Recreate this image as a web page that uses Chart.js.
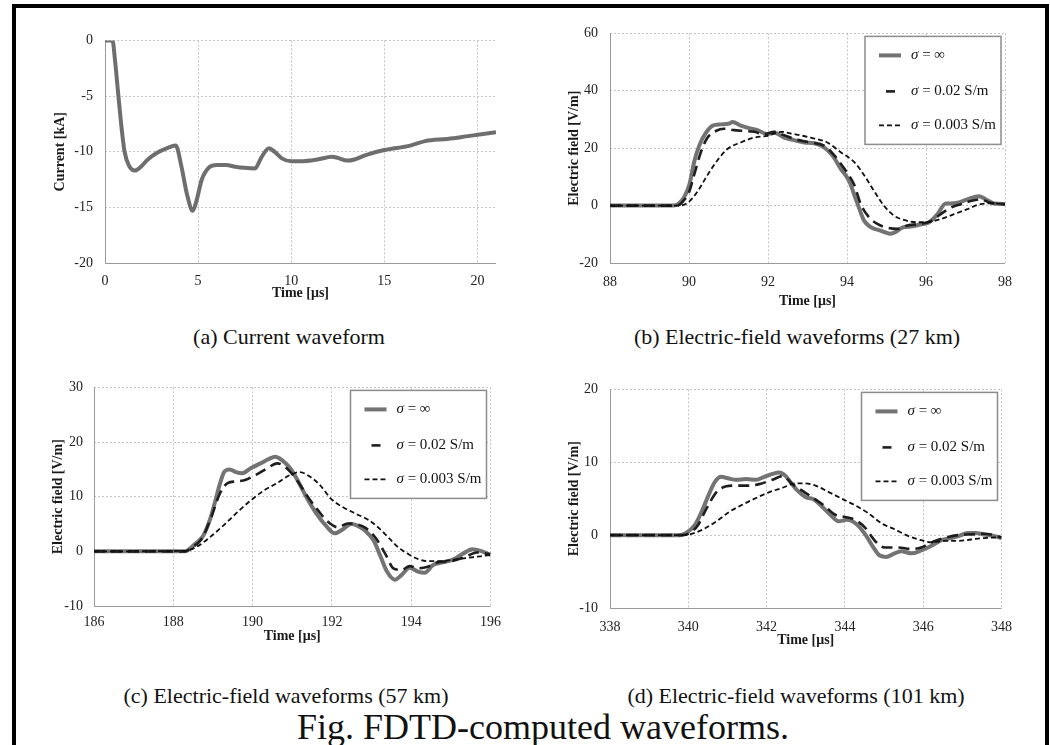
<!DOCTYPE html>
<html><head><meta charset="utf-8">
<script src="https://cdn.jsdelivr.net/npm/chart.js@4.4.1/dist/chart.umd.min.js"></script>
<style>
html,body{margin:0;padding:0;background:#fff;width:1050px;height:745px;overflow:hidden;position:relative;}
#frame{position:absolute;left:12px;top:4px;width:1029px;height:800px;border:4px solid #000;border-bottom:none;}
canvas{position:absolute;}
.cap{position:absolute;font-family:'Liberation Serif','Times New Roman',serif;font-size:22px;line-height:22px;color:#111;white-space:nowrap;transform:translateX(-50%);}
#fig{font-size:36px;line-height:36px;}
</style></head><body>
<div id="frame"></div>
<canvas id="ca" width="458" height="280" style="left:53px;top:20px;width:458px;height:280px"></canvas>
<canvas id="cb" width="456" height="295" style="left:567px;top:13px;width:456px;height:295px"></canvas>
<canvas id="cc" width="458" height="275" style="left:51px;top:368px;width:458px;height:275px"></canvas>
<canvas id="cd" width="456" height="278" style="left:567px;top:369px;width:456px;height:278px"></canvas>
<div class="cap" style="left:289px;top:326px">(a) Current waveform</div>
<div class="cap" style="left:797px;top:326px">(b) Electric-field waveforms (27 km)</div>
<div class="cap" style="left:286px;top:685px">(c) Electric-field waveforms (57 km)</div>
<div class="cap" style="left:796px;top:685px">(d) Electric-field waveforms (101 km)</div>
<div class="cap" id="fig" style="left:543px;top:709px">Fig. FDTD-computed waveforms.</div>
<script>
// ---------- DATA ----------
const seriesLabels = ['σ = ∞', 'σ = 0.02 S/m', 'σ = 0.003 S/m'];

// (a) Current waveform
const aTime = [0,0.4,0.55,0.72,0.9,1.05,1.3,1.61,1.9,2.3,2.8,3.3,3.8,4.1,4.4,4.71,4.9,5.2,5.6,6.0,6.5,7.0,7.5,8.06,8.4,8.82,9.1,9.5,10.0,10.5,11.4,12.2,12.5,13.0,13.4,14.0,15.0,16.4,17.2,18.4,19.5,21.0];
const aCurrent = [0,0,-2.0,-5.0,-8.0,-10.0,-11.3,-11.7,-11.4,-10.7,-10.1,-9.7,-9.45,-11.3,-13.8,-15.3,-14.5,-12.5,-11.4,-11.2,-11.2,-11.35,-11.45,-11.5,-10.5,-9.7,-10.0,-10.6,-10.85,-10.85,-10.7,-10.45,-10.55,-10.8,-10.7,-10.3,-9.85,-9.45,-9.05,-8.85,-8.6,-8.25];

// (b) 27 km
const bInfT = [88,89.6,89.75,89.88,90.01,90.13,90.26,90.43,90.6,90.81,91.02,91.1,91.31,91.57,91.73,91.99,92.16,92.41,92.66,92.92,93.17,93.42,93.63,93.84,94.06,94.18,94.27,94.43,94.6,94.77,94.94,95.1,95.23,95.4,95.61,95.86,96.08,96.29,96.5,96.63,96.8,97.05,97.34,97.51,97.72,98];
const bInfE = [0,0,0.8,3,7.3,15.2,20.9,25.4,27.9,28.3,28.6,29.1,27.9,26.8,26.3,24.9,25.4,23.7,22.8,22.0,21.7,20.3,17.5,12.9,8.4,3.9,0.5,-5.2,-7.5,-8.4,-9.2,-9.8,-9.2,-7.7,-7.3,-6.6,-5.8,-3.0,0.7,0.7,1.0,2.2,3.3,2.2,0.7,0.5];
const b002T = [88,89.7,89.85,90.01,90.13,90.3,90.47,90.68,90.89,91.14,91.4,91.65,91.9,92.16,92.41,92.75,93.08,93.42,93.68,93.93,94.18,94.35,94.56,94.77,95.02,95.27,95.53,95.86,96.12,96.37,96.63,96.88,97.13,97.38,97.63,98];
const b002E = [0,0,1.5,5.0,10.7,18.6,23.7,26.0,26.8,26.3,26.0,25.7,24.9,25.7,24.5,22.9,22.0,20.9,17.5,12.9,7.3,0.5,-4.1,-6.4,-7.7,-8.1,-6.9,-6.4,-5.4,-3.0,-0.7,0.5,1.6,2.2,1.0,0.5];
const b0003T = [88,89.75,89.97,90.22,90.47,90.72,90.98,91.31,91.65,91.99,92.33,92.66,93.08,93.5,93.84,94.18,94.43,94.69,94.94,95.19,95.44,95.78,96.03,96.37,96.71,97.05,97.38,97.72,98];
const b0003E = [0,0,1.0,5.0,10.7,15.8,19.8,22.0,23.7,24.3,25.7,24.9,23.7,22.0,18.6,15.2,10.7,5.0,-0.1,-3.5,-5.0,-5.8,-5.8,-4.7,-3.0,-1.2,0.5,0.8,0.5];

// (c) 57 km
const cInfT = [186,188.3,188.54,188.75,188.92,189.04,189.17,189.29,189.42,189.58,189.74,189.95,190.2,190.41,190.57,190.74,190.95,191.15,191.36,191.61,191.86,192.07,192.27,192.48,192.64,192.85,193.06,193.22,193.39,193.59,193.76,193.96,194.17,194.34,194.55,194.8,195.05,195.29,195.54,195.75,196];
const cInfE = [0,0,1.3,2.8,5.7,8.7,12.2,14.6,15.0,14.5,14.3,15.2,16.1,16.9,17.3,16.7,15.2,12.8,9.9,6.9,4.6,3.3,4.0,5.0,4.7,3.7,1.9,-0.8,-3.7,-5.2,-4.3,-3.0,-3.7,-3.9,-2.5,-2.0,-1.5,-0.5,0.4,0.1,-0.65];
const c002T = [186,188.3,188.46,188.71,188.96,189.17,189.37,189.58,189.83,190.08,190.37,190.62,190.86,191.11,191.4,191.65,191.9,192.15,192.4,192.6,192.85,193.1,193.35,193.55,193.76,193.96,194.17,194.42,194.67,195.0,195.33,195.66,196];
const c002E = [0,0,0.7,2.2,6.3,10.5,12.5,12.8,13.1,14.0,15.2,16.1,15.2,13.1,9.9,7.5,5.4,4.4,5.1,5.0,4.3,2.5,-0.5,-3.1,-3.4,-2.7,-3.1,-2.8,-2.0,-1.8,-1.1,-0.2,-0.5];
const c0003T = [186,188.29,188.63,188.96,189.29,189.62,189.95,190.28,190.62,190.95,191.19,191.44,191.69,191.98,192.27,192.6,192.93,193.18,193.43,193.68,193.93,194.17,194.42,194.75,195.08,195.41,195.75,196];
const c0003E = [0,0.1,1.0,2.8,4.9,7.2,9.3,11.1,12.5,14.0,14.5,13.7,12.2,9.6,8.1,6.9,5.7,4.3,2.5,0.7,-0.5,-1.4,-1.8,-1.8,-1.5,-1.2,-0.9,-0.65];

// (d) 101 km
const dInfT = [338,339.8,340.0,340.17,340.34,340.51,340.68,340.84,341.01,341.22,341.48,341.73,341.94,342.15,342.32,342.49,342.62,342.79,343.0,343.21,343.42,343.63,343.84,344.05,344.3,344.52,344.73,344.89,345.06,345.23,345.44,345.7,345.95,346.2,346.46,346.71,346.92,347.13,347.34,347.55,347.8,348];
const dInfE = [0,0,0.5,1.4,3.2,5.4,7.3,8.0,7.8,7.6,7.7,7.6,8.0,8.4,8.6,8.1,7.2,6.1,5.2,4.9,3.9,2.8,1.9,2.1,1.5,0.1,-1.7,-2.8,-3.0,-2.6,-2.2,-2.5,-2.1,-1.5,-0.7,-0.4,-0.1,0.3,0.3,0.1,-0.1,-0.4];
const d002T = [338,339.85,340.04,340.25,340.46,340.72,340.97,341.22,341.56,341.81,342.15,342.41,342.66,342.91,343.16,343.46,343.75,344.0,344.26,344.52,344.77,345.02,345.36,345.7,345.95,346.25,346.54,346.88,347.22,347.55,348];
const d002E = [0,0,0.3,1.4,3.6,5.9,6.7,6.8,6.8,7.0,7.6,8.1,7.0,6.1,5.2,4.1,2.8,2.5,2.1,1.0,-0.8,-1.7,-1.7,-1.9,-1.7,-0.9,-0.4,0,0.1,0.2,-0.3];
const d0003T = [338,339.9,340.04,340.38,340.72,341.05,341.39,341.73,342.07,342.41,342.74,343.0,343.25,343.59,343.92,344.26,344.6,344.94,345.27,345.61,345.95,346.2,346.54,346.88,347.22,347.55,348];
const d0003E = [0,0,0.1,0.8,1.9,3.2,4.2,5.1,5.9,6.5,7.1,7.1,6.8,5.9,5.0,4.1,3.0,1.6,0.8,-0.1,-0.7,-1.0,-0.8,-0.8,-0.6,-0.4,-0.3];

// ---------- RENDER ----------
const SERIF = "'Liberation Serif', 'Times New Roman', serif";
const zip = (xs, ys) => xs.map((x, i) => ({x, y: ys[i]}));
const lineStyles = [
  {borderColor:'#737373', borderWidth:4, borderDash:[], order:3},
  {borderColor:'#1e1e1e', borderWidth:2.6, borderDash:[11,6], order:2},
  {borderColor:'#111111', borderWidth:1.8, borderDash:[5,3], order:1}
];
const legendSamples = [
  {x0:14, x1:36, dash:[]},
  {x0:21, x1:30, dash:[]},
  {x0:14, x1:36, dash:[5,3]}
];

const framePlugin = {
  id:'plotFrame',
  beforeDatasetsDraw(chart){
    const {ctx, chartArea:{left,top,right,bottom}} = chart;
    ctx.save();
    ctx.setLineDash([]);
    ctx.lineWidth = 1;
    ctx.strokeStyle = '#9a9a9a';
    ctx.beginPath();
    ctx.moveTo(Math.round(left)+0.5, top);
    ctx.lineTo(Math.round(left)+0.5, Math.round(bottom)+0.5);
    ctx.lineTo(right, Math.round(bottom)+0.5);
    ctx.stroke();
    ctx.restore();
  }
};
const boxLegend = {
  id:'boxLegend',
  afterDatasetsDraw(chart, args, opts){
    if (!opts.show) return;
    const {ctx, chartArea:ca} = chart;
    const w = 136, h = 108;
    const x = ca.right - 4 - w, y = ca.top + 3;
    ctx.save();
    ctx.fillStyle = '#fff';
    ctx.fillRect(x, y, w, h);
    ctx.strokeStyle = '#8c8c8c';
    ctx.lineWidth = 1.5;
    ctx.setLineDash([]);
    ctx.strokeRect(x, y, w, h);
    const rows = [19, 55, 89];
    chart.data.datasets.forEach((ds, i) => {
      const yy = y + rows[i];
      const st = legendSamples[i];
      ctx.strokeStyle = ds.borderColor;
      ctx.lineWidth = ds.borderWidth;
      ctx.setLineDash(st.dash);
      ctx.beginPath(); ctx.moveTo(x + st.x0, yy); ctx.lineTo(x + st.x1, yy); ctx.stroke();
      ctx.setLineDash([]);
      ctx.fillStyle = '#111';
      ctx.textBaseline = 'middle';
      ctx.textAlign = 'left';
      ctx.font = "italic 15px " + SERIF;
      const lbl = ds.label;
      ctx.fillText(lbl[0], x + 46, yy);
      const ws = ctx.measureText(lbl[0]).width;
      ctx.font = "15px " + SERIF;
      ctx.fillText(lbl.slice(1), x + 46 + ws, yy);
    });
    ctx.restore();
  }
};

function makeChart(id, datasets, g, ax, showLegend){
  new Chart(document.getElementById(id), {
    type:'line',
    data:{datasets},
    options:{
      responsive:false, animation:false, maintainAspectRatio:false,
      layout:{padding:{top:g.padTop, right:g.padRight, left:0, bottom:0}},
      elements:{point:{radius:0}, line:{cubicInterpolationMode:'monotone', fill:false}},
      plugins:{legend:{display:false}, tooltip:{enabled:false}, boxLegend:{show:showLegend}},
      scales:{
        x:{type:'linear', min:ax.xmin, max:ax.xmax,
           afterFit:s=>{s.height = g.xH;},
           ticks:{stepSize:ax.xstep, includeBounds:false, padding:g.xPad, color:'#222', font:{family:SERIF, size:14}, maxRotation:0},
           grid:{color:'#c4c4c4', lineWidth:1, drawTicks:false},
           border:{display:false, dash:[2,2]},
           title:{display:true, text:'Time [μs]', color:'#1a1a1a', padding:0, font:{family:SERIF, size:14, weight:'bold', lineHeight:'14px'}}},
        y:{type:'linear', min:ax.ymin, max:ax.ymax,
           afterFit:s=>{s.width = g.yW;},
           ticks:{stepSize:ax.ystep, padding:g.yPad, color:'#222', font:{family:SERIF, size:14}},
           grid:{color:'#c4c4c4', lineWidth:1, drawTicks:false},
           border:{display:false, dash:[2,2]},
           title:{display:true, text:ax.ytitle, color:'#1a1a1a', padding:0, font:{family:SERIF, size:14, weight:'bold', lineHeight:'14px'}}}
      }
    },
    plugins:[framePlugin, boxLegend]
  });
}
function fieldSets(pairs){
  return pairs.map((p, i) => Object.assign({label:seriesLabels[i], data:zip(p[0], p[1]), pointRadius:0}, lineStyles[i]));
}

makeChart('ca',
  [Object.assign({label:'Current', data:zip(aTime, aCurrent), pointRadius:0}, {borderColor:'#6e6e6e', borderWidth:4})],
  {padTop:12, padRight:15, yW:52, xH:37, yPad:12, xPad:10},
  {xmin:0, xmax:21, xstep:5, ymin:-20, ymax:0, ystep:5, ytitle:'Current [kA]'}, false);

makeChart('cb', fieldSets([[bInfT,bInfE],[b002T,b002E],[b0003T,b0003E]]),
  {padTop:12, padRight:12, yW:43, xH:45, yPad:12, xPad:11},
  {xmin:88, xmax:98, xstep:2, ymin:-20, ymax:60, ystep:20, ytitle:'Electric field [V/m]'}, true);

makeChart('cc', fieldSets([[cInfT,cInfE],[c002T,c002E],[c0003T,c0003E]]),
  {padTop:12, padRight:12, yW:43, xH:37, yPad:11, xPad:8},
  {xmin:186, xmax:196, xstep:2, ymin:-10, ymax:30, ystep:10, ytitle:'Electric field [V/m]'}, true);

makeChart('cd', fieldSets([[dInfT,dInfE],[d002T,d002E],[d0003T,d0003E]]),
  {padTop:12, padRight:12, yW:43, xH:39, yPad:12, xPad:11},
  {xmin:338, xmax:348, xstep:2, ymin:-10, ymax:20, ystep:10, ytitle:'Electric field [V/m]'}, true);
</script>
</body></html>
